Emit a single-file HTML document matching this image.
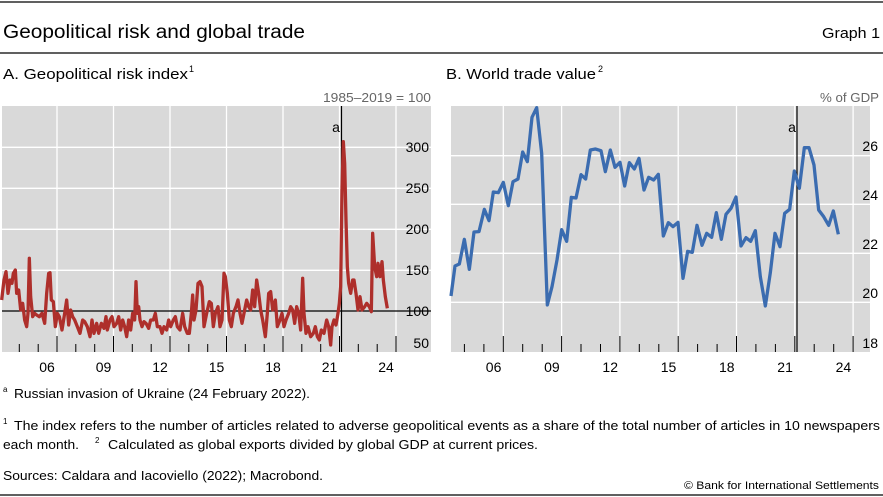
<!DOCTYPE html>
<html><head><meta charset="utf-8"><style>
html,body{margin:0;padding:0;background:#fff;}
svg{display:block;font-family:"Liberation Sans",sans-serif;}
</style></head><body>
<svg width="883" height="497" viewBox="0 0 883 497" xmlns="http://www.w3.org/2000/svg">
<rect width="883" height="497" fill="#fff"/>
<line x1="0" y1="2" x2="883" y2="2" stroke="#000" stroke-width="1.3"/>
<text x="3" y="38" font-size="19" textLength="302" lengthAdjust="spacingAndGlyphs">Geopolitical risk and global trade</text>
<text x="880" y="38" font-size="15" text-anchor="end" textLength="58" lengthAdjust="spacingAndGlyphs">Graph 1</text>
<line x1="0" y1="53" x2="883" y2="53" stroke="#000" stroke-width="1.3"/>
<text x="3" y="79" font-size="15" textLength="185" lengthAdjust="spacingAndGlyphs">A. Geopolitical risk index</text>
<text x="189" y="72" font-size="9">1</text>
<text x="446" y="79" font-size="15" textLength="150" lengthAdjust="spacingAndGlyphs">B. World trade value</text>
<text x="598" y="72" font-size="9">2</text>
<text x="431" y="102" font-size="13" fill="#666" text-anchor="end" textLength="108" lengthAdjust="spacingAndGlyphs">1985–2019 = 100</text>
<text x="879" y="102" font-size="13" fill="#666" text-anchor="end" textLength="59" lengthAdjust="spacingAndGlyphs">% of GDP</text>

<!-- Panel A -->
<rect x="2" y="106" width="429" height="246" fill="#d9d9d9"/>
<g stroke="#fff" stroke-width="1.3">
<line x1="2" y1="147.3" x2="431" y2="147.3"/><line x1="2" y1="188.3" x2="431" y2="188.3"/>
<line x1="2" y1="229.3" x2="431" y2="229.3"/><line x1="2" y1="270.3" x2="431" y2="270.3"/>
<line x1="57" y1="106" x2="57" y2="352"/><line x1="113.5" y1="106" x2="113.5" y2="352"/>
<line x1="170" y1="106" x2="170" y2="352"/><line x1="226.5" y1="106" x2="226.5" y2="352"/>
<line x1="283" y1="106" x2="283" y2="352"/><line x1="339.5" y1="106" x2="339.5" y2="352"/>
<line x1="396" y1="106" x2="396" y2="352"/>
</g>
<line x1="2" y1="311" x2="431" y2="311" stroke="#000" stroke-width="1.2"/>
<line x1="341.5" y1="106" x2="341.5" y2="352" stroke="#000" stroke-width="1.2"/>
<text x="336" y="132" font-size="14" text-anchor="middle">a</text>
<g stroke="#000" stroke-width="1">
<line x1="19.3" y1="344" x2="19.3" y2="352"/><line x1="38.2" y1="344" x2="38.2" y2="352"/>
<line x1="57" y1="336" x2="57" y2="352"/><line x1="75.8" y1="344" x2="75.8" y2="352"/>
<line x1="94.7" y1="344" x2="94.7" y2="352"/><line x1="113.5" y1="336" x2="113.5" y2="352"/>
<line x1="132.3" y1="344" x2="132.3" y2="352"/><line x1="151.2" y1="344" x2="151.2" y2="352"/>
<line x1="170" y1="336" x2="170" y2="352"/><line x1="188.8" y1="344" x2="188.8" y2="352"/>
<line x1="207.7" y1="344" x2="207.7" y2="352"/><line x1="226.5" y1="336" x2="226.5" y2="352"/>
<line x1="245.3" y1="344" x2="245.3" y2="352"/><line x1="264.2" y1="344" x2="264.2" y2="352"/>
<line x1="283" y1="336" x2="283" y2="352"/><line x1="301.8" y1="344" x2="301.8" y2="352"/>
<line x1="320.7" y1="344" x2="320.7" y2="352"/><line x1="339.5" y1="336" x2="339.5" y2="352"/>
<line x1="358.3" y1="344" x2="358.3" y2="352"/><line x1="377.2" y1="344" x2="377.2" y2="352"/>
<line x1="396" y1="336" x2="396" y2="352"/>
</g>
<g font-size="14" text-anchor="middle">
<text x="47" y="372">06</text><text x="103.5" y="372">09</text><text x="160" y="372">12</text>
<text x="216.5" y="372">15</text><text x="273" y="372">18</text><text x="329.5" y="372">21</text><text x="386" y="372">24</text>
</g>
<g font-size="14" text-anchor="end">
<text x="429" y="152">300</text><text x="429" y="193">250</text><text x="429" y="234">200</text>
<text x="429" y="275">150</text><text x="429" y="316">100</text><text x="429" y="348">50</text>
</g>
<g transform="translate(0,80) scale(0.33333)">
<polyline fill="none" stroke="#ae2f2b" stroke-width="3.3" vector-effect="non-scaling-stroke" stroke-linejoin="round" points="5,660 12,600 18,575 24,640 30,600 36,610 40,580 46,570 50,640 56,630 62,690 68,670 74,720 80,740 84,700 88,535 92,650 98,710 104,700 110,705 118,710 126,700 134,730 140,640 146,580 150,578 154,660 160,665 166,740 172,700 178,710 186,750 194,700 200,660 206,735 212,690 218,710 224,720 232,740 240,760 248,720 254,725 262,740 270,770 276,720 282,760 290,730 296,760 304,730 312,745 318,710 322,750 330,720 336,710 342,740 350,730 356,710 362,750 368,720 374,740 380,770 386,720 392,750 398,700 404,720 408,605 412,700 416,680 420,720 426,740 432,725 438,730 446,745 452,720 460,720 466,700 472,740 480,740 486,760 492,740 500,750 506,720 512,740 520,720 526,710 532,740 540,750 548,700 554,740 562,760 568,760 574,700 578,645 582,720 588,690 594,610 600,605 606,620 612,740 620,700 628,665 634,670 640,740 646,700 654,680 660,740 666,720 672,580 676,590 682,640 688,720 694,740 700,700 708,680 714,660 720,700 726,730 734,690 740,660 746,680 752,690 758,630 764,680 770,600 776,640 782,690 788,720 796,770 802,700 806,640 812,635 818,690 826,660 832,740 840,720 846,700 852,740 858,720 866,700 872,680 878,690 884,730 890,680 896,700 902,750 908,595 912,700 918,760 924,740 932,770 940,760 946,740 952,770 958,780 964,750 972,760 980,720 986,740 992,795 996,740 1002,720 1008,735 1014,700 1018,670 1022,620 1026,330 1030,185 1034,250 1038,420 1042,560 1046,610 1052,640 1058,600 1062,600 1068,640 1074,690 1080,650 1086,690 1094,680 1100,670 1108,680 1114,695 1118,460 1124,560 1130,590 1134,550 1140,590 1146,545 1150,600 1156,650 1162,685"/>
</g>

<!-- Panel B -->
<rect x="451" y="106" width="419" height="246" fill="#d9d9d9"/>
<g stroke="#fff" stroke-width="1.3">
<line x1="451" y1="155.7" x2="870" y2="155.7"/><line x1="451" y1="204.3" x2="870" y2="204.3"/>
<line x1="451" y1="253.3" x2="870" y2="253.3"/><line x1="451" y1="302.3" x2="870" y2="302.3"/>
<line x1="503.3" y1="106" x2="503.3" y2="352"/><line x1="561.6" y1="106" x2="561.6" y2="352"/>
<line x1="619.9" y1="106" x2="619.9" y2="352"/><line x1="678.2" y1="106" x2="678.2" y2="352"/>
<line x1="736.5" y1="106" x2="736.5" y2="352"/><line x1="794.8" y1="106" x2="794.8" y2="352"/>
<line x1="853.1" y1="106" x2="853.1" y2="352"/>
</g>
<line x1="797" y1="106" x2="797" y2="352" stroke="#000" stroke-width="1.2"/>
<text x="792" y="132" font-size="14" text-anchor="middle">a</text>
<g stroke="#000" stroke-width="1">
<line x1="464.4" y1="344" x2="464.4" y2="352"/><line x1="483.9" y1="344" x2="483.9" y2="352"/>
<line x1="503.3" y1="336" x2="503.3" y2="352"/><line x1="522.7" y1="344" x2="522.7" y2="352"/>
<line x1="542.2" y1="344" x2="542.2" y2="352"/><line x1="561.6" y1="336" x2="561.6" y2="352"/>
<line x1="581" y1="344" x2="581" y2="352"/><line x1="600.5" y1="344" x2="600.5" y2="352"/>
<line x1="619.9" y1="336" x2="619.9" y2="352"/><line x1="639.3" y1="344" x2="639.3" y2="352"/>
<line x1="658.8" y1="344" x2="658.8" y2="352"/><line x1="678.2" y1="336" x2="678.2" y2="352"/>
<line x1="697.6" y1="344" x2="697.6" y2="352"/><line x1="717.1" y1="344" x2="717.1" y2="352"/>
<line x1="736.5" y1="336" x2="736.5" y2="352"/><line x1="755.9" y1="344" x2="755.9" y2="352"/>
<line x1="775.4" y1="344" x2="775.4" y2="352"/><line x1="794.8" y1="336" x2="794.8" y2="352"/>
<line x1="814.2" y1="344" x2="814.2" y2="352"/><line x1="833.7" y1="344" x2="833.7" y2="352"/>
<line x1="853.1" y1="336" x2="853.1" y2="352"/>
</g>
<g font-size="14" text-anchor="middle">
<text x="493.6" y="372">06</text><text x="551.9" y="372">09</text><text x="610.2" y="372">12</text>
<text x="668.5" y="372">15</text><text x="726.8" y="372">18</text><text x="785.1" y="372">21</text><text x="843.4" y="372">24</text>
</g>
<g font-size="14" text-anchor="end">
<text x="878" y="151">26</text><text x="878" y="200">24</text><text x="878" y="249">22</text>
<text x="878" y="298">20</text><text x="878" y="348">18</text>
</g>
<g transform="translate(440,80) scale(0.33333)">
<polyline fill="none" stroke="#3b6cb0" stroke-width="3.3" vector-effect="non-scaling-stroke" stroke-linejoin="round" points="33,648 45,558 58,552 73,478 88,568 102,456 117,455 133,388 147,422 160,336 175,338 190,307 205,377 219,305 234,297 248,216 262,245 276,112 290,83 305,220 322,675 336,620 351,540 365,449 380,484 394,352 408,354 423,284 437,297 451,210 466,207 483,212 496,275 511,210 525,262 540,247 554,318 568,248 583,267 597,235 612,330 626,292 641,300 655,283 670,468 685,428 699,440 714,427 729,595 743,514 757,517 771,436 786,496 800,460 815,472 829,398 844,478 858,403 873,385 888,351 903,498 918,473 932,484 946,452 961,590 976,678 991,578 1005,460 1020,500 1034,400 1049,388 1063,273 1078,325 1093,203 1107,203 1122,255 1136,390 1151,410 1166,436 1180,393 1195,463"/>
</g>

<!-- Footnotes -->
<g font-size="13">
<text x="3" y="392" font-size="8">a</text>
<text x="14" y="398" textLength="296" lengthAdjust="spacingAndGlyphs">Russian invasion of Ukraine (24 February 2022).</text>
<text x="3" y="424" font-size="8">1</text>
<text x="14" y="430" textLength="866" lengthAdjust="spacingAndGlyphs">The index refers to the number of articles related to adverse geopolitical events as a share of the total number of articles in 10 newspapers</text>
<text x="3" y="449" textLength="76" lengthAdjust="spacingAndGlyphs">each month.</text>
<text x="95" y="443" font-size="8">2</text>
<text x="108" y="449" textLength="430" lengthAdjust="spacingAndGlyphs">Calculated as global exports divided by global GDP at current prices.</text>
<text x="3" y="480" textLength="320" lengthAdjust="spacingAndGlyphs">Sources: Caldara and Iacoviello (2022); Macrobond.</text>
<text x="879" y="489" font-size="11" text-anchor="end" textLength="195" lengthAdjust="spacingAndGlyphs">© Bank for International Settlements</text>
</g>
<line x1="0" y1="495" x2="883" y2="495" stroke="#000" stroke-width="1.3"/>
</svg>
</body></html>
